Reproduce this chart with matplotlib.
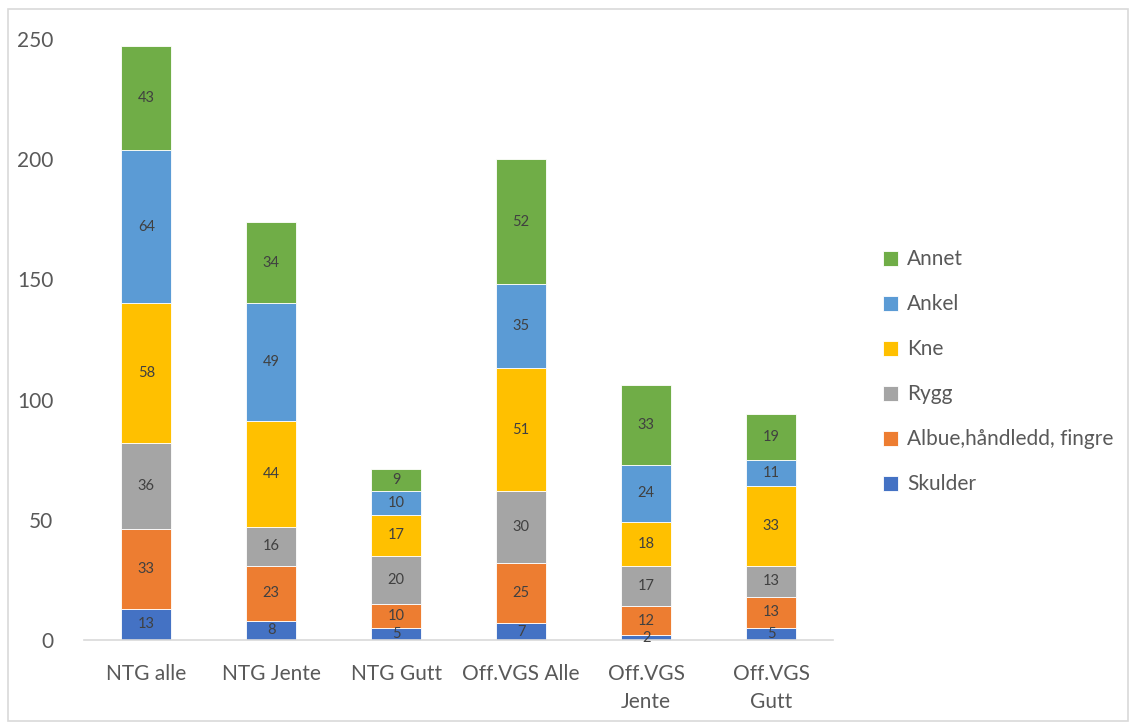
import matplotlib.pyplot as plt
from matplotlib.patches import Rectangle

plt.rcParams['font.family'] = ['Lato', 'DejaVu Sans']

categories = ['NTG alle', 'NTG Jente', 'NTG Gutt', 'Off.VGS Alle', 'Off.VGS\nJente', 'Off.VGS\nGutt']
skulder = [13, 8, 5, 7, 2, 5]
albue = [33, 23, 10, 25, 12, 13]
rygg = [36, 16, 20, 30, 17, 13]
kne = [58, 44, 17, 51, 18, 33]
ankel = [64, 49, 10, 35, 24, 11]
annet = [43, 34, 9, 52, 33, 19]

series = [
    ('Skulder', skulder, '#4472C4'),
    ('Albue,håndledd, fingre', albue, '#ED7D31'),
    ('Rygg', rygg, '#A5A5A5'),
    ('Kne', kne, '#FFC000'),
    ('Ankel', ankel, '#5B9BD5'),
    ('Annet', annet, '#70AD47'),
]

fig = plt.figure(figsize=(11.34, 7.25), dpi=100)
ax = fig.add_axes([0.074, 0.1172, 0.661, 0.829])

x = list(range(len(categories)))
bottom = [0] * len(categories)
handles = []
for name, vals, color in series:
    bars = ax.bar(x, vals, 0.4, bottom=bottom, color=color, label=name,
                  edgecolor='white', linewidth=0.6)
    ax.bar_label(bars, label_type='center', fontsize=10.5, color='#404040')
    handles.append(bars)
    bottom = [b + v for b, v in zip(bottom, vals)]

ax.set_xlim(-0.5, len(categories) - 0.5)
ax.set_ylim(0, 250)
ax.set_yticks(range(0, 251, 50))
ax.set_xticks(x)
ax.set_xticklabels(categories, linespacing=1.55)
ax.tick_params(axis='both', length=0, labelsize=15, colors='#595959')
ax.tick_params(axis='y', pad=22)
ax.tick_params(axis='x', pad=17)
for s in ['top', 'right', 'left']:
    ax.spines[s].set_visible(False)
ax.spines['bottom'].set_color('#D9D9D9')
ax.spines['bottom'].set_linewidth(1.2)

leg = fig.legend(handles[::-1], [s[0] for s in series][::-1], loc='center left',
                 bbox_to_anchor=(0.762, 0.487), frameon=False, fontsize=15,
                 labelspacing=1.2, handlelength=0.75, handleheight=0.75,
                 handletextpad=0.4, labelcolor='#595959')

fig.patches.append(Rectangle((0.007, 0.006), 0.988, 0.982, transform=fig.transFigure,
                             fill=False, edgecolor='#D9D9D9', linewidth=1.2))

fig.savefig('out.png', dpi=100)
